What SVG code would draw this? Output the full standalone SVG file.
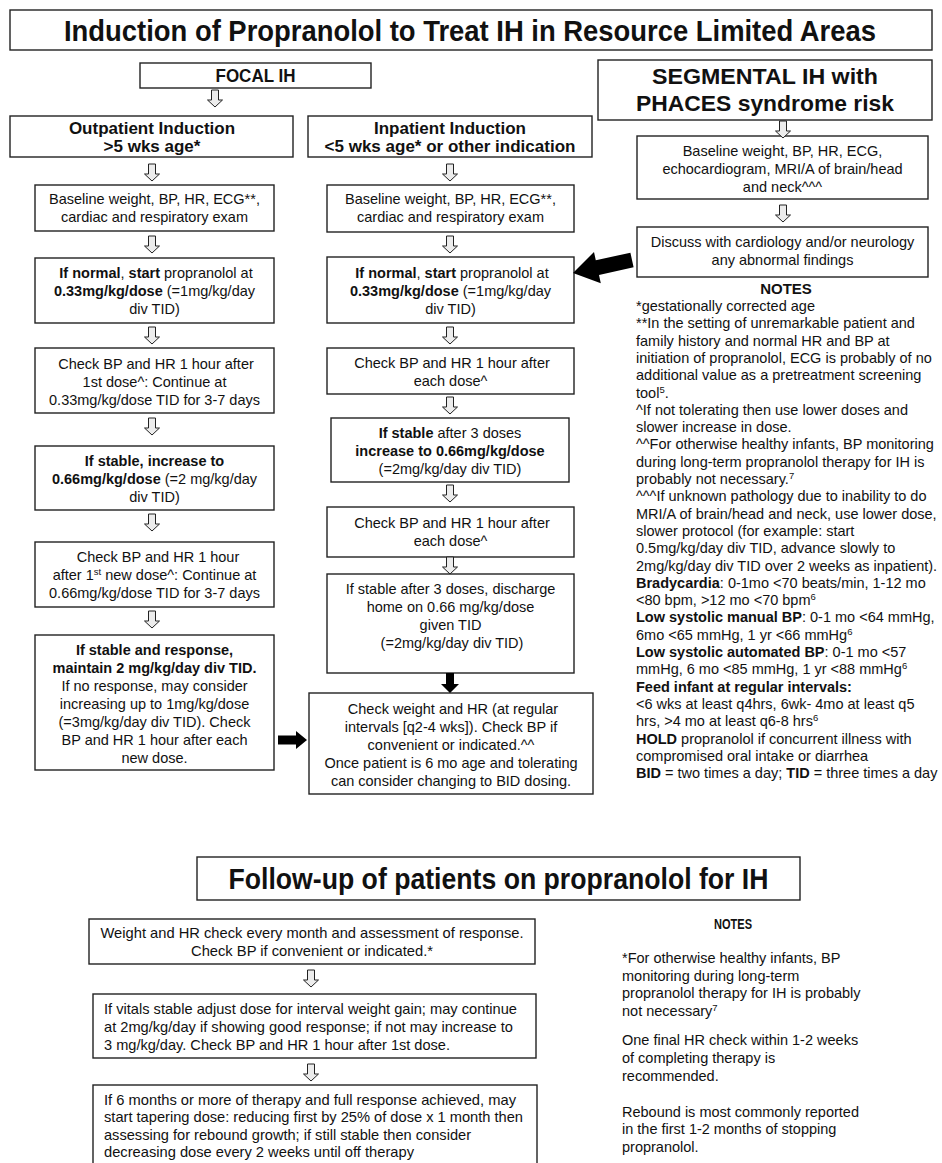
<svg xmlns="http://www.w3.org/2000/svg" width="942" height="1163" viewBox="0 0 942 1163">
<defs>
<style>
.bx{fill:#fff;stroke:#222;stroke-width:1.4}
.t{font-family:"Liberation Sans",Arial,sans-serif;font-size:14.5px;fill:#111;text-anchor:middle}
.l{font-family:"Liberation Sans",Arial,sans-serif;font-size:14.5px;fill:#111}
.b{font-weight:bold}
.h{font-family:"Liberation Sans",Arial,sans-serif;font-weight:bold;fill:#111;text-anchor:middle}
.ha{fill:#ececec;stroke:#222;stroke-width:1}
.sa{fill:#000}
</style>
<path id="ha" class="ha" d="M-3.5,0 H3.5 V10 H7.5 L0,17 L-7.5,10 H-3.5 Z"/>
</defs>
<rect width="942" height="1163" fill="#fff"/>

<g id="title"><rect class="bx" x="10" y="10" width="922" height="40"/>
<text class="h" x="470" y="40.5" font-size="29" textLength="812" lengthAdjust="spacingAndGlyphs">Induction of Propranolol to Treat IH in Resource Limited Areas</text></g>

<g id="focal"><rect class="bx" x="140" y="63" width="231" height="25"/>
<text class="h" x="255.5" y="82" font-size="18.5" textLength="80" lengthAdjust="spacingAndGlyphs">FOCAL IH</text></g>

<g id="segmental"><rect class="bx" x="598" y="60" width="334" height="60"/>
<text class="h" x="765" y="84" font-size="22.5" textLength="226" lengthAdjust="spacingAndGlyphs">SEGMENTAL IH with</text>
<text class="h" x="765" y="111" font-size="22.5" textLength="258" lengthAdjust="spacingAndGlyphs">PHACES syndrome risk</text></g>

<g id="outpatient"><rect class="bx" x="10" y="116" width="283" height="41"/>
<text class="h" x="152" y="134" font-size="17">Outpatient Induction</text>
<text class="h" x="152" y="152" font-size="17">&gt;5 wks age*</text></g>

<g id="inpatient"><rect class="bx" x="308" y="116" width="284" height="41"/>
<text class="h" x="450" y="134" font-size="17">Inpatient Induction</text>
<text class="h" x="450" y="152" font-size="17">&lt;5 wks age* or other indication</text></g>

<g id="out1"><rect class="bx" x="35" y="185" width="239" height="46"/>
<text class="t" x="154.5" y="204">Baseline weight, BP, HR, ECG**,</text>
<text class="t" x="154.5" y="222">cardiac and respiratory exam</text></g>

<g id="out2"><rect class="bx" x="35" y="258" width="239" height="65"/>
<text class="t" x="156" y="278"><tspan class="b">If normal</tspan>, <tspan class="b">start</tspan> propranolol at</text>
<text class="t" x="154.5" y="296"><tspan class="b">0.33mg/kg/dose</tspan> (=1mg/kg/day</text>
<text class="t" x="154.5" y="314">div TID)</text></g>

<g id="out3"><rect class="bx" x="35" y="348" width="239" height="65"/>
<text class="t" x="156" y="369">Check BP and HR 1 hour after</text>
<text class="t" x="154.5" y="387">1st dose^: Continue at</text>
<text class="t" x="154.5" y="405">0.33mg/kg/dose TID for 3-7 days</text></g>

<g id="out4"><rect class="bx" x="35" y="446" width="239" height="64"/>
<text class="t b" x="154.5" y="466">If stable, increase to</text>
<text class="t" x="154.5" y="484"><tspan class="b">0.66mg/kg/dose</tspan> (=2 mg/kg/day</text>
<text class="t" x="154.5" y="502">div TID)</text></g>

<g id="out5"><rect class="bx" x="35" y="542" width="239" height="65"/>
<text class="t" x="158" y="562">Check BP and HR 1 hour</text>
<text class="t" x="154.5" y="580">after 1<tspan font-size="9.5" dy="-5">st</tspan><tspan dy="5"> new dose^: Continue at</tspan></text>
<text class="t" x="154.5" y="598">0.66mg/kg/dose TID for 3-7 days</text></g>

<g id="out6"><rect class="bx" x="35" y="635" width="239" height="135"/>
<text class="t b" x="154.5" y="655">If stable and response,</text>
<text class="t b" x="154.5" y="673">maintain 2 mg/kg/day div TID.</text>
<text class="t" x="154.5" y="691">If no response, may consider</text>
<text class="t" x="154.5" y="709">increasing up to 1mg/kg/dose</text>
<text class="t" x="154.5" y="727">(=3mg/kg/day div TID). Check</text>
<text class="t" x="154.5" y="745">BP and HR 1 hour after each</text>
<text class="t" x="154.5" y="763">new dose.</text></g>

<g id="in1"><rect class="bx" x="327" y="185" width="247" height="47"/>
<text class="t" x="450.5" y="204">Baseline weight, BP, HR, ECG**,</text>
<text class="t" x="450.5" y="222">cardiac and respiratory exam</text></g>

<g id="in2"><rect class="bx" x="327" y="257" width="247" height="66"/>
<text class="t" x="452" y="278"><tspan class="b">If normal</tspan>, <tspan class="b">start</tspan> propranolol at</text>
<text class="t" x="450.5" y="296"><tspan class="b">0.33mg/kg/dose</tspan> (=1mg/kg/day</text>
<text class="t" x="450.5" y="314">div TID)</text></g>

<g id="in3"><rect class="bx" x="327" y="348" width="247" height="46"/>
<text class="t" x="452" y="368">Check BP and HR 1 hour after</text>
<text class="t" x="450.5" y="386">each dose^</text></g>

<g id="in4"><rect class="bx" x="331" y="418" width="238" height="64"/>
<text class="t" x="450" y="438"><tspan class="b">If stable</tspan> after 3 doses</text>
<text class="t b" x="450" y="456">increase to 0.66mg/kg/dose</text>
<text class="t" x="450" y="474">(=2mg/kg/day div TID)</text></g>

<g id="in5"><rect class="bx" x="327" y="507" width="247" height="50"/>
<text class="t" x="452" y="528">Check BP and HR 1 hour after</text>
<text class="t" x="450.5" y="546">each dose^</text></g>

<g id="in6"><rect class="bx" x="327" y="574" width="247" height="99"/>
<text class="t" x="450.5" y="594">If stable after 3 doses, discharge</text>
<text class="t" x="450.5" y="612">home on 0.66 mg/kg/dose</text>
<text class="t" x="450.5" y="630">given TID</text>
<text class="t" x="452" y="648">(=2mg/kg/day div TID)</text></g>

<g id="checkweight"><rect class="bx" x="309" y="693" width="284" height="101"/>
<text class="t" x="453" y="714">Check weight and HR (at regular</text>
<text class="t" x="451" y="732">intervals [q2-4 wks]). Check BP if</text>
<text class="t" x="451" y="750">convenient or indicated.^^</text>
<text class="t" x="451" y="768">Once patient is 6 mo age and tolerating</text>
<text class="t" x="451" y="786">can consider changing to BID dosing.</text></g>

<g id="seg1"><rect class="bx" x="637" y="136" width="291" height="63"/>
<text class="t" x="782.5" y="156">Baseline weight, BP, HR, ECG,</text>
<text class="t" x="782.5" y="174">echocardiogram, MRI/A of brain/head</text>
<text class="t" x="782.5" y="192">and neck^^^</text></g>

<g id="seg2"><rect class="bx" x="637" y="227" width="291" height="50"/>
<text class="t" x="782.5" y="247">Discuss with cardiology and/or neurology</text>
<text class="t" x="782.5" y="265">any abnormal findings</text></g>

<g id="notes1">
<text class="h" x="786" y="294" font-size="15">NOTES</text>
<text class="l" x="636" y="311">*gestationally corrected age</text>
<text class="l" x="636" y="328.3">**In the setting of unremarkable patient and</text>
<text class="l" x="636" y="345.6">family history and normal HR and BP at</text>
<text class="l" x="636" y="362.9">initiation of propranolol, ECG is probably of no</text>
<text class="l" x="636" y="380.2">additional value as a pretreatment screening</text>
<text class="l" x="636" y="397.5">tool<tspan font-size="9.5" dy="-5">5</tspan><tspan dy="5">.</tspan></text>
<text class="l" x="636" y="414.8">^If not tolerating then use lower doses and</text>
<text class="l" x="636" y="432.1">slower increase in dose.</text>
<text class="l" x="636" y="449.4">^^For otherwise healthy infants, BP monitoring</text>
<text class="l" x="636" y="466.7">during long-term propranolol therapy for IH is</text>
<text class="l" x="636" y="484">probably not necessary.<tspan font-size="9.5" dy="-5">7</tspan></text>
<text class="l" x="636" y="501.3">^^^If unknown pathology due to inability to do</text>
<text class="l" x="636" y="518.6">MRI/A of brain/head and neck, use lower dose,</text>
<text class="l" x="636" y="535.9">slower protocol (for example: start</text>
<text class="l" x="636" y="553.2">0.5mg/kg/day div TID, advance slowly to</text>
<text class="l" x="636" y="570.5">2mg/kg/day div TID over 2 weeks as inpatient).</text>
<text class="l" x="636" y="587.8"><tspan class="b">Bradycardia</tspan>: 0-1mo &lt;70 beats/min, 1-12 mo</text>
<text class="l" x="636" y="605.1">&lt;80 bpm, &gt;12 mo &lt;70 bpm<tspan font-size="9.5" dy="-5">6</tspan></text>
<text class="l" x="636" y="622.4"><tspan class="b">Low systolic manual BP</tspan>: 0-1 mo &lt;64 mmHg,</text>
<text class="l" x="636" y="639.7">6mo &lt;65 mmHg, 1 yr &lt;66 mmHg<tspan font-size="9.5" dy="-5">6</tspan></text>
<text class="l" x="636" y="657"><tspan class="b">Low systolic automated BP</tspan>: 0-1 mo &lt;57</text>
<text class="l" x="636" y="674.3">mmHg, 6 mo &lt;85 mmHg, 1 yr &lt;88 mmHg<tspan font-size="9.5" dy="-5">6</tspan></text>
<text class="l b" x="636" y="691.6">Feed infant at regular intervals:</text>
<text class="l" x="636" y="708.9">&lt;6 wks at least q4hrs, 6wk- 4mo at least q5</text>
<text class="l" x="636" y="726.2">hrs, &gt;4 mo at least q6-8 hrs<tspan font-size="9.5" dy="-5">6</tspan></text>
<text class="l" x="636" y="743.5"><tspan class="b">HOLD</tspan> propranolol if concurrent illness with</text>
<text class="l" x="636" y="760.8">compromised oral intake or diarrhea</text>
<text class="l" x="636" y="778.1"><tspan class="b">BID</tspan> = two times a day; <tspan class="b">TID</tspan> = three times a day</text>
</g>

<g id="followup-title"><rect class="bx" x="197" y="857" width="603" height="43"/>
<text class="h" x="498.5" y="889" font-size="29" textLength="540" lengthAdjust="spacingAndGlyphs">Follow-up of patients on propranolol for IH</text></g>

<g id="fa"><rect class="bx" x="89" y="919" width="446" height="45"/>
<text class="t" x="312" y="938" textLength="423" lengthAdjust="spacingAndGlyphs">Weight and HR check every month and assessment of response.</text>
<text class="t" x="312" y="956" textLength="242" lengthAdjust="spacingAndGlyphs">Check BP if convenient or indicated.*</text></g>

<g id="fb"><rect class="bx" x="93" y="994" width="443" height="64"/>
<text class="l" x="104" y="1014" textLength="413" lengthAdjust="spacingAndGlyphs">If vitals stable adjust dose for interval weight gain; may continue</text>
<text class="l" x="104" y="1032" textLength="409" lengthAdjust="spacingAndGlyphs">at 2mg/kg/day if showing good response; if not may increase to</text>
<text class="l" x="104" y="1050" textLength="346" lengthAdjust="spacingAndGlyphs">3 mg/kg/day. Check BP and HR 1 hour after 1st dose.</text></g>

<g id="fc"><rect class="bx" x="93" y="1085" width="444" height="100"/>
<text class="l" x="104" y="1105" textLength="412" lengthAdjust="spacingAndGlyphs">If 6 months or more of therapy and full response achieved, may</text>
<text class="l" x="104" y="1122" textLength="419" lengthAdjust="spacingAndGlyphs">start tapering dose: reducing first by 25% of dose x 1 month then</text>
<text class="l" x="104" y="1140" textLength="367" lengthAdjust="spacingAndGlyphs">assessing for rebound growth; if still stable then consider</text>
<text class="l" x="104" y="1157" textLength="310" lengthAdjust="spacingAndGlyphs">decreasing dose every 2 weeks until off therapy</text></g>

<g id="notes2">
<text class="h" x="733" y="929" font-size="14.5" textLength="38" lengthAdjust="spacingAndGlyphs">NOTES</text>
<text class="l" x="622" y="963">*For otherwise healthy infants, BP</text>
<text class="l" x="622" y="981">monitoring during long-term</text>
<text class="l" x="622" y="998">propranolol therapy for IH is probably</text>
<text class="l" x="622" y="1016">not necessary<tspan font-size="9.5" dy="-5">7</tspan></text>
<text class="l" x="622" y="1045">One final HR check within 1-2 weeks</text>
<text class="l" x="622" y="1063">of completing therapy is</text>
<text class="l" x="622" y="1081">recommended.</text>
<text class="l" x="622" y="1117">Rebound is most commonly reported</text>
<text class="l" x="622" y="1134">in the first 1-2 months of stopping</text>
<text class="l" x="622" y="1152">propranolol.</text>
</g>

<g id="connectors">
<use href="#ha" x="215" y="90"/>
<use href="#ha" x="783" y="121"/>
<use href="#ha" x="152" y="164"/>
<use href="#ha" x="450" y="164"/>
<use href="#ha" x="152" y="236"/>
<use href="#ha" x="450" y="236"/>
<use href="#ha" x="152" y="327"/>
<use href="#ha" x="450" y="327"/>
<use href="#ha" x="152" y="418"/>
<use href="#ha" x="450" y="397"/>
<use href="#ha" x="152" y="514"/>
<use href="#ha" x="450" y="485"/>
<use href="#ha" x="152" y="611"/>
<use href="#ha" x="450" y="557"/>
<use href="#ha" x="783" y="205"/>
<use href="#ha" x="311" y="970"/>
<use href="#ha" x="311" y="1064"/>
<polygon class="sa" points="278,735.5 296,735.5 296,731 307,740 296,749 296,744.5 278,744.5"/>
<polygon class="sa" points="446,673 454,673 454,684 459,684 450,693 441,684 446,684"/>
<polygon class="sa" points="630.4,252.7 595.8,260.3 594,252 573,273 600.8,283.2 599,274.9 633.6,267.3"/>
</g>
</svg>
